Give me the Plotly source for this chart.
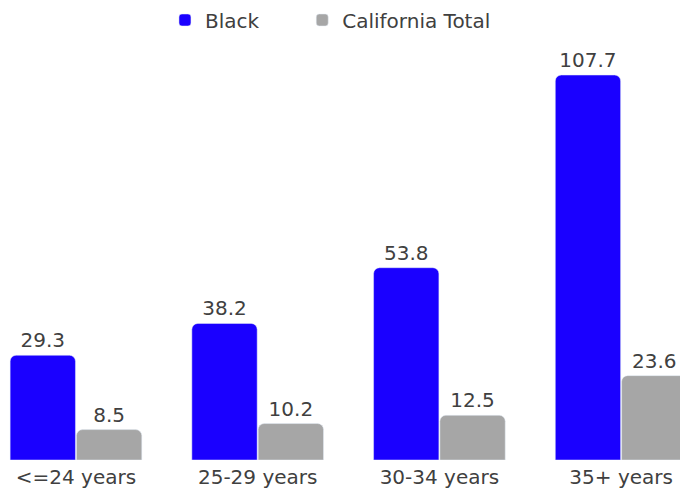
import plotly.graph_objects as go

categories = ['<=24 years', '25-29 years', '30-34 years', '35+ years']
black = [29.3, 38.2, 53.8, 107.7]
ca_total = [8.5, 10.2, 12.5, 23.6]

fig = go.Figure()
# trailing nbsp widens the gap between the two legend entries
fig.add_trace(go.Bar(x=categories, y=black, name='Black' + '\u00a0' * 6,
                     marker=dict(color='#1a00ff', cornerradius=6),
                     text=[f'{v:.1f}' for v in black], textposition='outside',
                     cliponaxis=False))
fig.add_trace(go.Bar(x=categories, y=ca_total, name='California Total',
                     marker=dict(color='#a6a6a6', cornerradius=6),
                     text=[f'{v:.1f}' for v in ca_total], textposition='outside',
                     cliponaxis=False))

fig.update_layout(
    width=680, height=493,
    margin=dict(l=0, r=0, t=40, b=33, autoexpand=False),
    plot_bgcolor='white', paper_bgcolor='white',
    font=dict(family='DejaVu Sans', size=20, color='#404040'),
    barmode='group', bargap=0.27, bargroupgap=0.015,
    legend=dict(orientation='h', x=0.2426, xanchor='left', y=1.0476, yanchor='middle',
                font=dict(size=20), bgcolor='rgba(0,0,0,0)'),
)
fig.update_traces(textfont=dict(size=20, color='#404040'))
fig.update_xaxes(range=[-0.418, 3.324], showline=False, ticks='', showgrid=False,
                 ticklabelstandoff=3)
fig.update_yaxes(range=[0, 117.5], visible=False)

# drop the default body margin so the figure fills the window
fig.write_html('out.html', config={'displayModeBar': False},
               post_script="document.body.style.margin='0';")
